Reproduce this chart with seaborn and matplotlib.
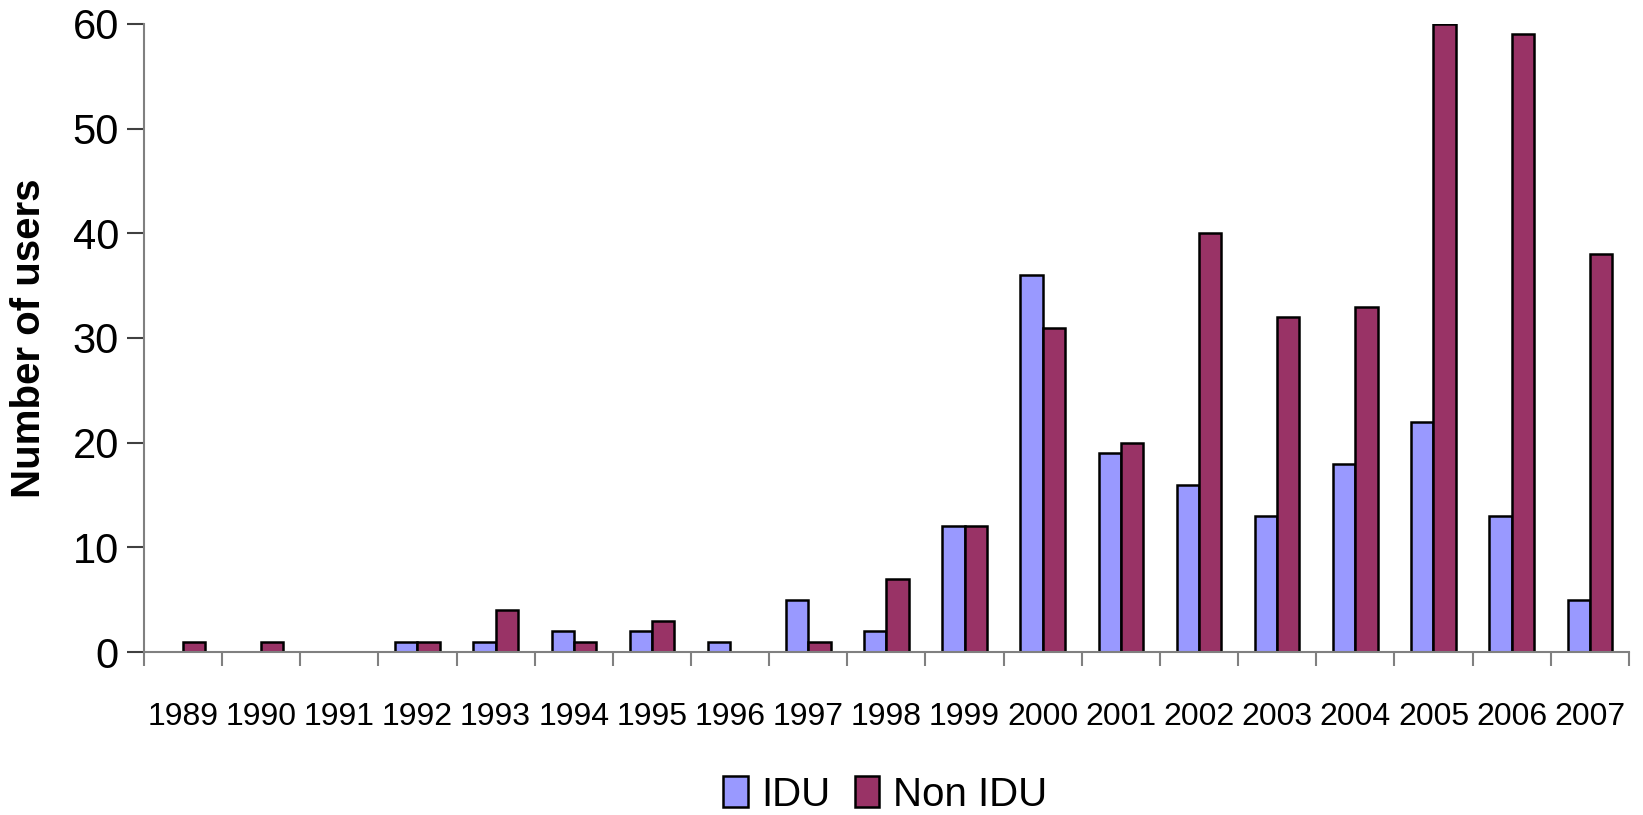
import matplotlib
matplotlib.use("Agg")
import matplotlib.pyplot as plt
import numpy as np
import pandas as pd
import seaborn as sns

years = [str(y) for y in range(1989, 2008)]
idu = [0, 0, 0, 1, 1, 2, 2, 1, 5, 2, 12, 36, 19, 16, 13, 18, 22, 13, 5]
non_idu = [1, 1, 0, 1, 4, 1, 3, 0, 1, 7, 12, 31, 20, 40, 32, 33, 60, 59, 38]
groups = ["IDU", "Non IDU"]
colors = ["#9999FF", "#993366"]

df = pd.DataFrame({
    "Year": years * 2,
    "Users": idu + non_idu,
    "Group": [groups[0]] * len(years) + [groups[1]] * len(years),
})

sns.set_style("white")
plt.rcParams["font.family"] = ["Liberation Sans", "DejaVu Sans"]
plt.rcParams["text.color"] = "black"
plt.rcParams["axes.labelcolor"] = "black"

fig = plt.figure(figsize=(16.43, 8.15), dpi=100)
ax = fig.add_axes([0.0876, 0.2, 0.9038, 0.7706])

sns.barplot(data=df, x="Year", y="Users", hue="Group", palette=colors, saturation=1,
            width=0.57, edgecolor="black", linewidth=1.8, ax=ax)

# hide outline of empty bars
for p in ax.patches:
    if p.get_height() == 0:
        p.set_linewidth(0)

ax.set_xlim(-0.5, len(years) - 0.5)
ax.set_ylim(0, 60)
ax.set_yticks(range(0, 61, 10))
ax.set_xlabel("")
ax.set_ylabel("Number of users", fontsize=29, fontweight="bold", labelpad=18)

for side in ["top", "right"]:
    ax.spines[side].set_visible(False)
for side in ["left", "bottom"]:
    ax.spines[side].set_color("#808080")
    ax.spines[side].set_linewidth(1.5)

ax.tick_params(axis="y", left=True, labelsize=30, length=12, width=1.5,
               color="#404040", labelcolor="black", pad=6)
ax.tick_params(axis="x", which="major", labelsize=23, length=0, pad=36, labelcolor="black")
ax.set_xticks(np.arange(-0.5, len(years), 1), minor=True)
ax.tick_params(axis="x", which="minor", bottom=True, length=10, width=1.5, color="#808080")

leg = ax.legend(loc="center", bbox_to_anchor=(0.539, 0.025), bbox_transform=fig.transFigure,
                ncol=2, frameon=False, fontsize=29, handlelength=0.6, handleheight=0.8,
                handletextpad=0.35, columnspacing=0.6)
for h in leg.legend_handles:
    h.set_edgecolor("black")
    h.set_linewidth(1.8)

fig.savefig("out.png", dpi=100)
